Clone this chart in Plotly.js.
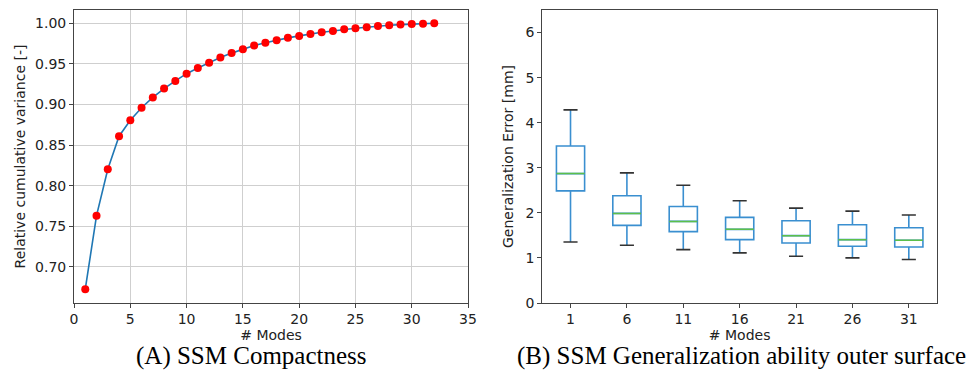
<!DOCTYPE html>
<html>
<head>
<meta charset="utf-8">
<script src="https://cdn.plot.ly/plotly-3.0.1.min.js"></script>
<style>html,body{margin:0;padding:0;background:#fff;}#chart{width:970px;height:376px;}</style>
</head>
<body>
<div id="chart"></div>
<script>
// Panel A: compactness
const modes = [1,2,3,4,5,6,7,8,9,10,11,12,13,14,15,16,17,18,19,20,21,22,23,24,25,26,27,28,29,30,31,32];
const cumVariance = [0.6727,0.7632,0.8202,0.8610,0.8806,0.8961,0.9087,0.9197,0.9291,0.9380,0.9450,0.9515,0.9580,0.9633,0.9682,0.9727,0.9760,0.9792,0.9821,0.9845,0.9870,0.9890,0.9906,0.9927,0.9939,0.9951,0.9967,0.9976,0.9984,0.9992,0.9996,1.0000];

// Panel B: generalization error boxes
const boxLabels = ["1","6","11","16","21","26","31"];
const whiskerLow = [1.355,1.281,1.185,1.112,1.038,1.001,0.964];
const q1 = [2.488,1.723,1.583,1.406,1.333,1.259,1.244];
const medians = [2.871,1.988,1.811,1.634,1.494,1.406,1.391];
const q3 = [3.482,2.378,2.142,1.899,1.826,1.737,1.671];
const whiskerHigh = [4.285,2.886,2.614,2.268,2.106,2.039,1.951];

const tickFont = {family: "DejaVu Sans", size: 14, color: "#222"};
const titleFont = {family: "DejaVu Sans", size: 14, color: "#222"};
const frame = {showline: true, linecolor: "#444", linewidth: 1, mirror: true, ticks: "outside", ticklen: 4, tickcolor: "#444", zeroline: false, tickfont: tickFont};

const traces = [
  {x: modes, y: cumVariance, type: "scatter", mode: "lines", xaxis: "x", yaxis: "y",
   line: {color: "#1f77b4", width: 1.6}, hoverinfo: "skip"},
  {x: modes, y: cumVariance, type: "scatter", mode: "markers", xaxis: "x", yaxis: "y",
   marker: {color: "#ff0000", size: 8}},
  {type: "box", x: boxLabels, q1: q1, median: medians, q3: q3, lowerfence: whiskerLow, upperfence: whiskerHigh,
   xaxis: "x2", yaxis: "y2", width: 0.5, whiskerwidth: 0, boxpoints: false,
   line: {color: "#3a8fd0", width: 1.6}, fillcolor: "rgba(0,0,0,0)"},
  {type: "box", x: boxLabels, q1: medians, median: medians, q3: medians, lowerfence: medians, upperfence: medians,
   xaxis: "x2", yaxis: "y2", width: 0.5, whiskerwidth: 0, boxpoints: false,
   line: {color: "#5cbf4a", width: 1.5}, fillcolor: "rgba(0,0,0,0)"},
  {type: "box", x: boxLabels, q1: whiskerHigh, median: whiskerHigh, q3: whiskerHigh, lowerfence: whiskerHigh, upperfence: whiskerHigh,
   xaxis: "x2", yaxis: "y2", width: 0.25, whiskerwidth: 0, boxpoints: false,
   line: {color: "#333", width: 1.6}, fillcolor: "rgba(0,0,0,0)"},
  {type: "box", x: boxLabels, q1: whiskerLow, median: whiskerLow, q3: whiskerLow, lowerfence: whiskerLow, upperfence: whiskerLow,
   xaxis: "x2", yaxis: "y2", width: 0.25, whiskerwidth: 0, boxpoints: false,
   line: {color: "#333", width: 1.6}, fillcolor: "rgba(0,0,0,0)"}
];

const layout = {
  width: 970, height: 376,
  margin: {l: 0, r: 0, t: 0, b: 0},
  paper_bgcolor: "#fff", plot_bgcolor: "#fff",
  showlegend: false, boxmode: "overlay",
  xaxis: Object.assign({}, frame, {domain: [0.0763, 0.4825], range: [0, 35], tickvals: [0,5,10,15,20,25,30,35],
    showgrid: true, gridcolor: "#cfcfcf", gridwidth: 1, anchor: "y", ticklabelstandoff: -1,
    title: {text: "# Modes", font: titleFont, standoff: 1}}),
  yaxis: Object.assign({}, frame, {domain: [0.1941, 0.9734], range: [0.6556, 1.0164], tickvals: [0.70,0.75,0.80,0.85,0.90,0.95,1.00],
    tickformat: ".2f", showgrid: true, gridcolor: "#cfcfcf", gridwidth: 1, anchor: "x",
    title: {text: "Relative cumulative variance [-]", font: titleFont, standoff: 6}}),
  xaxis2: Object.assign({}, frame, {domain: [0.5591, 0.966], type: "category", range: [-0.5, 6.5], showgrid: false, anchor: "y2", ticklabelstandoff: -1,
    title: {text: "# Modes", font: titleFont, standoff: 1}}),
  yaxis2: Object.assign({}, frame, {domain: [0.1941, 0.9734], range: [0, 6.5], tickvals: [0,1,2,3,4,5,6], showgrid: false, anchor: "x2",
    title: {text: "Generalization Error [mm]", font: titleFont, standoff: 8}}),
  annotations: [
    {text: "(A) SSM Compactness", xref: "paper", yref: "paper", x: 251/970, y: 1 - 356/376, xanchor: "center", yanchor: "middle",
     showarrow: false, font: {family: "Liberation Serif", size: 25, color: "#000"}},
    {text: "(B) SSM Generalization ability outer surface", xref: "paper", yref: "paper", x: 741/970, y: 1 - 356/376, xanchor: "center", yanchor: "middle",
     showarrow: false, font: {family: "Liberation Serif", size: 25, color: "#000"}}
  ]
};

Plotly.newPlot("chart", traces, layout, {displayModeBar: false, staticPlot: true});
</script>
</body>
</html>
